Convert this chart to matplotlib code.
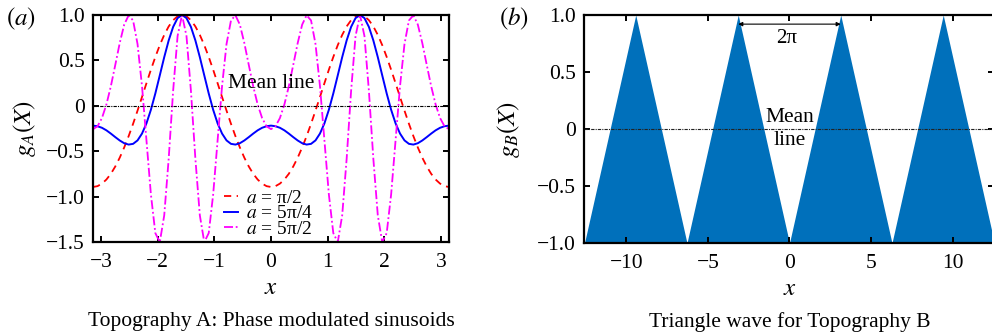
import numpy as np
import matplotlib
matplotlib.use('Agg')
import matplotlib.pyplot as plt

plt.rcParams['font.family'] = ['Liberation Serif', 'DejaVu Serif']
plt.rcParams['mathtext.fontset'] = 'stix'
plt.rcParams['font.size'] = 15

# panel (a): g_A(X) read at 81 points from x=-pi to pi
xa = np.linspace(-np.pi, np.pi, 81)
g_red = [-0.894, -0.885, -0.857, -0.812, -0.749, -0.668, -0.571, -0.459, -0.334, -0.198, -0.053,
         0.097, 0.248, 0.397, 0.538, 0.668, 0.781, 0.874, 0.943, 0.986, 1.000,
         0.986, 0.943, 0.874, 0.781, 0.668, 0.538, 0.397, 0.248, 0.097, -0.053,
         -0.198, -0.334, -0.459, -0.571, -0.668, -0.749, -0.812, -0.857, -0.885, -0.894,
         -0.885, -0.857, -0.812, -0.749, -0.668, -0.571, -0.459, -0.334, -0.198, -0.053,
         0.097, 0.248, 0.397, 0.538, 0.668, 0.781, 0.874, 0.943, 0.986, 1.000,
         0.986, 0.943, 0.874, 0.781, 0.668, 0.538, 0.397, 0.248, 0.097, -0.053,
         -0.198, -0.334, -0.459, -0.571, -0.668, -0.749, -0.812, -0.857, -0.885, -0.894]
g_blue = [-0.218, -0.225, -0.242, -0.270, -0.306, -0.345, -0.382, -0.412, -0.427, -0.419, -0.381,
          -0.306, -0.194, -0.044, 0.136, 0.335, 0.536, 0.720, 0.869, 0.966, 1.000,
          0.966, 0.869, 0.720, 0.536, 0.335, 0.136, -0.044, -0.194, -0.306, -0.381,
          -0.419, -0.427, -0.412, -0.382, -0.345, -0.306, -0.270, -0.242, -0.225, -0.218,
          -0.225, -0.242, -0.270, -0.306, -0.345, -0.382, -0.412, -0.427, -0.419, -0.381,
          -0.306, -0.194, -0.044, 0.136, 0.335, 0.536, 0.720, 0.869, 0.966, 1.000,
          0.966, 0.869, 0.720, 0.536, 0.335, 0.136, -0.044, -0.194, -0.306, -0.381,
          -0.419, -0.427, -0.412, -0.382, -0.345, -0.306, -0.270, -0.242, -0.225, -0.218]
g_mag = [-0.257, -0.226, -0.135, 0.014, 0.215, 0.451, 0.692, 0.894, 0.997, 0.940, 0.680,
         0.219, -0.377, -0.975, -1.402, -1.502, -1.206, -0.583, 0.165, 0.769, 1.000,
         0.769, 0.165, -0.583, -1.206, -1.502, -1.402, -0.975, -0.377, 0.219, 0.680,
         0.940, 0.997, 0.894, 0.692, 0.451, 0.215, 0.014, -0.135, -0.226, -0.257,
         -0.226, -0.135, 0.014, 0.215, 0.451, 0.692, 0.894, 0.997, 0.940, 0.680,
         0.219, -0.377, -0.975, -1.402, -1.502, -1.206, -0.583, 0.165, 0.769, 1.000,
         0.769, 0.165, -0.583, -1.206, -1.502, -1.402, -0.975, -0.377, 0.219, 0.680,
         0.940, 0.997, 0.894, 0.692, 0.451, 0.215, 0.014, -0.135, -0.226, -0.257]
labels_a = ['$a$ = π/2', '$a$ = 5π/4', '$a$ = 5π/2']
xticks_a = [-3, -2, -1, 0, 1, 2, 3]
xticklabels_a = ['−3', '−2', '−1', '0', '1', '2', '3']
yticks_a = [1.0, 0.5, 0, -0.5, -1.0, -1.5]
yticklabels_a = ['1.0', '0.5', '0', '−0.5', '−1.0', '−1.5']

# panel (b): triangle wave vertices
xb = np.pi * np.array([-4, -3, -2, -1, 0, 1, 2, 3, 4])
gb = [-1, 1, -1, 1, -1, 1, -1, 1, -1]
xticks_b = [-10, -5, 0, 5, 10]
xticklabels_b = ['−10', '−5', '0', '5', '10']
yticks_b = [-1.0, -0.5, 0, 0.5, 1.0]
yticklabels_b = ['−1.0', '−0.5', '0', '0.5', '1.0']

fig = plt.figure(figsize=(9.92, 3.35), dpi=100)
ax1 = fig.add_axes([0.0938, 0.2776, 0.3588, 0.6776])
ax2 = fig.add_axes([0.5892, 0.2746, 0.4133, 0.6806])

def style(ax):
    for s in ax.spines.values():
        s.set_linewidth(1.6)
    ax.tick_params(direction='in', top=True, right=True, length=4, width=1.4,
                   labelsize=15.5, pad=6)
    ax.tick_params(axis='x', pad=8)

# ---- (a)
ax1.plot(xa, g_red, color='#ff0000', ls=(0, (4, 3)), lw=1.3, label=labels_a[0])
ax1.plot(xa, g_blue, color='#0000ff', ls='-', lw=1.4, label=labels_a[1])
ax1.plot(xa, g_mag, color='#ff00ff', ls=(0, (5, 1.5, 1, 1.5)), lw=1.3, label=labels_a[2])
ax1.axhline(0, color='k', ls=(0, (3, 1, 1, 1)), lw=0.8)
ax1.set_xlim(-np.pi, np.pi)
ax1.set_ylim(-1.5, 1.0)
ax1.set_xticks(xticks_a)
ax1.set_xticklabels(xticklabels_a)
ax1.set_yticks(yticks_a)
ax1.set_yticklabels(yticklabels_a)
style(ax1)
ax1.text(0.0, 0.25, 'Mean line', ha='center', va='center', fontsize=15.5)
ax1.legend(loc='lower left', bbox_to_anchor=(0.347, -0.015), frameon=False, fontsize=14,
           handlelength=0.7, handletextpad=0.4, labelspacing=-0.12, borderaxespad=0.0)
ax1.set_xlabel('$x$', fontsize=18)
ax1.xaxis.set_label_coords(0.5, -0.155)
ax1.set_ylabel('$g_A(X)$', fontsize=18)
ax1.yaxis.set_label_coords(-0.155, 0.5)

# ---- (b)
ax2.fill_between(xb, gb, -1, color='#0070bb', lw=0)
ax2.axhline(0, color='#222222', ls=(0, (3, 1, 1, 1)), lw=0.8)
ax2.set_xlim(-4 * np.pi, 4 * np.pi)
ax2.set_ylim(-1.0, 1.0)
ax2.set_xticks(xticks_b)
ax2.set_xticklabels(xticklabels_b)
ax2.set_yticks(yticks_b)
ax2.set_yticklabels(yticklabels_b)
style(ax2)
ax2.annotate('', xy=(np.pi, 0.92), xytext=(-np.pi, 0.92),
             arrowprops=dict(arrowstyle='<|-|>', lw=0.8, color='k', mutation_scale=6,
                             shrinkA=0, shrinkB=0))
ax2.text(-0.15, 0.79, '2π', ha='center', va='center', fontsize=15)
ax2.text(0.0, 0.0, 'Mean\nline', ha='center', va='center', fontsize=15.5, linespacing=1.3)
ax2.set_xlabel('$x$', fontsize=18)
ax2.xaxis.set_label_coords(0.5, -0.155)
ax2.set_ylabel('$g_B(X)$', fontsize=18)
ax2.yaxis.set_label_coords(-0.152, 0.5)

fig.text(0.021, 0.943, '$(a)$', ha='center', va='center', fontsize=18)
fig.text(0.518, 0.943, '$(b)$', ha='center', va='center', fontsize=18)
fig.text(0.2733, 0.039, 'Topography A: Phase modulated sinusoids', ha='center', va='center', fontsize=15.5)
fig.text(0.796, 0.039, 'Triangle wave for Topography B', ha='center', va='center', fontsize=15.5)

fig.savefig('out.png', dpi=100)
